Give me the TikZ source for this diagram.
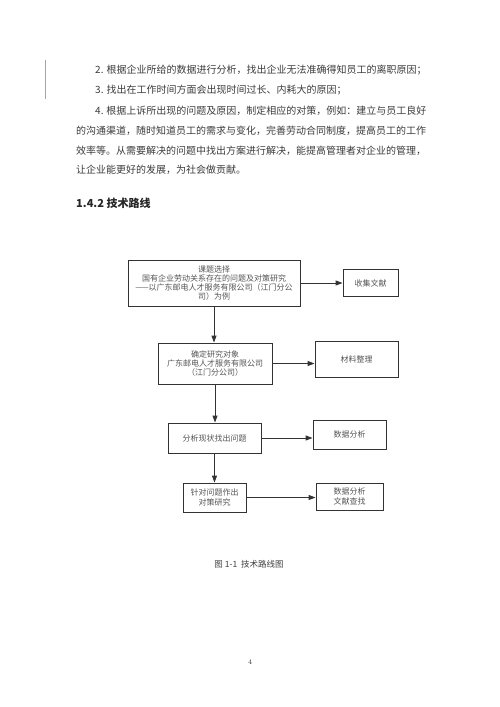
\documentclass[tikz,border=0pt]{standalone}
\usepackage{fontspec}
\setmainfont{Noto Sans CJK SC}
\newfontfamily\lmr{Latin Modern Roman}
\usetikzlibrary{arrows.meta}
\XeTeXlinebreaklocale "zh"
\XeTeXlinebreakskip=0pt plus 2pt
\definecolor{bodytxt}{HTML}{3C3C3C}
\definecolor{diagtxt}{HTML}{555555}
\definecolor{boxcol}{HTML}{333333}
\definecolor{pinkline}{HTML}{D98BA3}
\begin{document}
\begin{tikzpicture}[x=1pt,y=-1pt,
  bodyline/.style={anchor=west, inner sep=0pt, text=bodytxt, font=\fontsize{10}{12}\selectfont},
  box/.style={draw=boxcol, line width=0.9pt, inner sep=1pt, align=center, text=diagtxt, font=\fontsize{8}{9.3}\selectfont},
  arr/.style={draw=boxcol, line width=0.9pt, -{Triangle[length=7pt,width=5pt]}}]
\useasboundingbox[fill=white] (0,0) rectangle (500,707);

% margin mark
\draw[pinkline, line width=0.8pt] (45,60) -- (45,99);

% body text
\node[bodyline] (l1) at (95,70.5) {2. 根据企业所给的数据进行分析，找出企业无法准确得知员工的离职原因；};
\node[bodyline] (l2) at (95,90.5) {3. 找出在工作时间方面会出现时间过长、内耗大的原因；};
\node[bodyline] (l3) at (95,110.5) {\makebox[330pt][s]{4. 根据上诉所出现的问题及原因，制定相应的对策，例如：建立与员工良好}};
\node[bodyline] (l4) at (76,130.5) {\makebox[349pt][s]{的沟通渠道，随时知道员工的需求与变化，完善劳动合同制度，提高员工的工作}};
\node[bodyline] (l5) at (76,150.5) {\makebox[349pt][s]{效率等。从需要解决的问题中找出方案进行解决，能提高管理者对企业的管理，}};
\node[bodyline] (l6) at (76,169.5) {让企业能更好的发展，为社会做贡献。};

% heading
\node[anchor=west, inner sep=0pt, text=black!85, font=\fontsize{11}{13}\selectfont\bfseries] (h) at (76,203) {1.4.2 技术路线};

% diagram
\node[box, minimum width=172pt, minimum height=46pt] (b1) at (214,283)
  {课题选择\\国有企业劳动关系存在的问题及对策研究\\——以广东邮电人才服务有限公司（江门分公\\司）为例};
\node[box, minimum width=55pt, minimum height=27pt] (b1r) at (370.5,283) {收集文献};
\node[box, minimum width=114pt, minimum height=41pt] (b2) at (215,363.5)
  {确定研究对象\\广东邮电人才服务有限公司\\（江门分公司）};
\node[box, minimum width=83pt, minimum height=36pt] (b2r) at (356.5,359) {材料整理};
\node[box, minimum width=93pt, minimum height=30pt] (b3) at (214.5,438) {分析现状找出问题};
\node[box, minimum width=73pt, minimum height=29pt] (b3r) at (349.5,434.5) {数据分析};
\node[box, minimum width=63pt, minimum height=29pt] (b4) at (214.5,497.5) {针对问题作出\\对策研究};
\node[box, minimum width=67pt, minimum height=27pt] (b4r) at (349.5,496.5) {数据分析\\文献查找};

\draw[arr] (b1.east) -- (b1.east -| b1r.west);
\draw[arr] (b2.east) -- (b2.east -| b2r.west);
\draw[arr] (b3.east) -- (b3.east -| b3r.west);
\draw[arr] (b4.east) -- (b4.east -| b4r.west);
\draw[arr] (b1.south) -- (b1.south |- b2.north);
\draw[arr] (b2.south) -- (b2.south |- b3.north);
\draw[arr] (b3.south) -- (b3.south |- b4.north);

% caption and page number
\node[inner sep=0pt, text=black!75, font=\fontsize{8.5}{10}\selectfont] (cap) at (249,564) {图 1-1\ \ 技术路线图};
\node[inner sep=0pt, text=black!80, font=\lmr\fontsize{7}{8}\selectfont] (pg) at (250,662) {4};
\end{tikzpicture}
\end{document}
